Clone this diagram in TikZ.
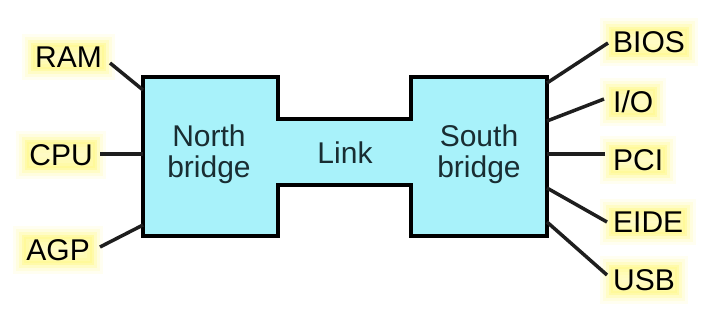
\documentclass[tikz,border=0pt]{standalone}
\usepackage{fontspec}
\setmainfont{Liberation Sans}
\definecolor{boxc}{RGB}{168,242,250}
\definecolor{glowc}{RGB}{255,248,140}
\definecolor{inkc}{RGB}{25,45,50}
\definecolor{linec}{RGB}{30,30,30}
\newcommand{\lblfont}{\fontsize{30}{31}\selectfont}
\tikzset{
  lbl/.style={font=\lblfont, text=black, inner sep=2pt,
    preaction={draw=glowc, line width=22pt, opacity=0.12, rounded corners=9pt},
    preaction={draw=glowc, line width=16pt, opacity=0.18, rounded corners=8pt},
    preaction={draw=glowc, line width=10pt, opacity=0.3, rounded corners=6pt},
    preaction={draw=glowc, fill=glowc, fill opacity=0.6, line width=4pt, opacity=0.5, rounded corners=4pt}},
  boxtext/.style={font=\lblfont, text=inkc, align=center, inner sep=0pt},
  bus/.style={draw=linec, line width=3.5pt},
  chip/.style={draw=black, line width=4.5pt, fill=boxc, line join=miter}
}
\begin{document}
\begin{tikzpicture}[x=1pt,y=-1pt]
\useasboundingbox (0,0) rectangle (720,322);
% chipset outline
\draw[chip] (143,77) -- (278,77) -- (278,119) -- (411,119) -- (411,77) -- (547,77)
  -- (547,236) -- (411,236) -- (411,185) -- (278,185) -- (278,236) -- (143,236) -- cycle;
\node[boxtext] (nb) at (209,154) {North\\bridge};
\node[boxtext] (link) at (345,153) {Link};
\node[boxtext] (sb) at (479,154) {South\\bridge};
% attachment points on the chips
\coordinate (nbRAM) at (143,90);
\coordinate (nbCPU) at (143,154);
\coordinate (nbAGP) at (143,225);
\coordinate (sbBIOS) at (547,83);
\coordinate (sbIO) at (547,121);
\coordinate (sbPCI) at (547,154);
\coordinate (sbEIDE) at (547,188);
\coordinate (sbUSB) at (547,222);
% labels
\node[lbl, anchor=east] (ram) at (104,57) {RAM};
\node[lbl, anchor=east] (cpu) at (95,155) {CPU};
\node[lbl, anchor=east] (agp) at (92,250) {AGP};
\node[lbl, anchor=west] (bios) at (611,42) {BIOS};
\node[lbl, anchor=west] (io) at (611,102) {I/O};
\node[lbl, anchor=west] (pci) at (611,160) {PCI};
\node[lbl, anchor=west] (eide) at (611,222) {EIDE};
\node[lbl, anchor=west] (usb) at (611,280) {USB};
% connectors
\draw[bus] ([xshift=6pt,yshift=-6pt]ram.east) -- (nbRAM);
\draw[bus] ([xshift=5pt,yshift=1pt]cpu.east) -- (nbCPU);
\draw[bus] ([xshift=8pt,yshift=3pt]agp.east) -- (nbAGP);
\draw[bus] ([xshift=-3pt,yshift=-1pt]bios.west) -- (sbBIOS);
\draw[bus] ([xshift=-7pt,yshift=3pt]io.west) -- (sbIO);
\draw[bus] ([xshift=-6pt,yshift=6pt]pci.west) -- (sbPCI);
\draw[bus] ([xshift=-4pt,yshift=0pt]eide.west) -- (sbEIDE);
\draw[bus] ([xshift=-4pt,yshift=5pt]usb.west) -- (sbUSB);
\end{tikzpicture}
\end{document}
